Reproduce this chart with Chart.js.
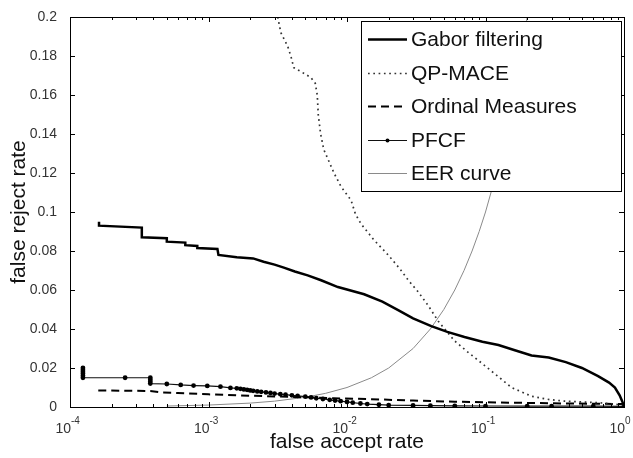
<!DOCTYPE html>
<html>
<head>
<meta charset="utf-8">
<script src="https://cdn.jsdelivr.net/npm/chart.js@4"></script>
<style>
  html, body { margin: 0; padding: 0; background: #fff; }
</style>
</head>
<body>
<canvas id="detChart" width="633" height="458"></canvas>
<script>
// DET curves: false reject rate vs false accept rate (log x)

var seriesNames = ["Gabor filtering", "QP-MACE", "Ordinal Measures", "PFCF", "EER curve"];

var xTicks = [1e-4, 1e-3, 1e-2, 1e-1, 1];
var xTickExps = ["-4", "-3", "-2", "-1", "0"];
var yTicks = [0, 0.02, 0.04, 0.06, 0.08, 0.1, 0.12, 0.14, 0.16, 0.18, 0.2];

var gaborFar = [1.62e-4, 1.62e-4, 3.3e-4, 3.3e-4, 5.0e-4, 5.0e-4, 6.8e-4, 6.8e-4, 8.3e-4, 8.3e-4,
  1.16e-3, 1.18e-3, 1.6e-3, 2.1e-3, 2.5e-3, 3.0e-3, 3.5e-3, 4.2e-3, 5.2e-3, 6.5e-3, 8.6e-3,
  1.33e-2, 1.8e-2, 2.34e-2, 3.0e-2, 4.06e-2, 5.3e-2, 7.05e-2, 9.5e-2, 0.124, 0.165, 0.215,
  0.286, 0.38, 0.497, 0.65, 0.78, 0.86, 0.93, 0.97, 1.0];
var gaborFrr = [0.095, 0.093, 0.092, 0.087, 0.0865, 0.0848, 0.0843, 0.083, 0.0826, 0.0815,
  0.081, 0.078, 0.0768, 0.0762, 0.0745, 0.073, 0.0715, 0.0695, 0.0675, 0.065, 0.0615,
  0.0578, 0.054, 0.0497, 0.0455, 0.0415, 0.0385, 0.0359, 0.0335, 0.0318, 0.029, 0.0264,
  0.0254, 0.023, 0.020, 0.0158, 0.0125, 0.010, 0.006, 0.003, 0.0005];

var qpFar = [3.16e-3, 3.33e-3, 3.73e-3, 3.93e-3, 4.13e-3, 4.65e-3, 5.48e-3, 5.9e-3, 6.1e-3, 6.2e-3,
  6.45e-3, 6.8e-3, 7.3e-3, 8.05e-3, 9.06e-3, 1.07e-2, 1.15e-2, 1.26e-2, 1.55e-2, 1.98e-2,
  2.4e-2, 2.77e-2, 3.27e-2, 3.86e-2, 4.56e-2, 5.96e-2, 7.5e-2, 9.35e-2, 0.124, 0.154,
  0.215, 0.29, 0.373, 0.5, 0.66, 1.0];
var qpFrr = [0.2, 0.192, 0.185, 0.180, 0.174, 0.172, 0.169, 0.166, 0.160, 0.150,
  0.140, 0.132, 0.127, 0.120, 0.113, 0.106, 0.099, 0.094, 0.086, 0.078,
  0.071, 0.065, 0.059, 0.052, 0.044, 0.034, 0.028, 0.0226, 0.0155, 0.010,
  0.0055, 0.0038, 0.003, 0.0026, 0.0022, 0.001];

var ordinalFar = [1.6e-4, 3.8e-4, 4.5e-4, 6e-4, 1e-3, 2e-3, 4e-3, 8e-3, 1.5e-2, 3e-2, 6e-2, 0.15, 0.4, 1.0];
var ordinalFrr = [0.0085, 0.0082, 0.0075, 0.0072, 0.0065, 0.0058, 0.0052, 0.0045, 0.004, 0.0033, 0.0027, 0.0022, 0.0018, 0.0015];

var pfcfFar = [1.24e-4, 1.24e-4, 1.24e-4, 1.24e-4, 1.24e-4, 1.24e-4, 2.5e-4, 3.8e-4, 3.8e-4, 3.8e-4, 3.8e-4,
  5e-4, 6.3e-4, 7.8e-4, 9.8e-4, 1.22e-3, 1.44e-3, 1.6e-3, 1.7e-3, 1.8e-3, 1.9e-3, 2.0e-3, 2.1e-3,
  2.25e-3, 2.4e-3, 2.6e-3, 2.8e-3, 3.0e-3, 3.3e-3, 3.6e-3, 4e-3, 4.4e-3, 5e-3, 5.5e-3, 6e-3,
  6.7e-3, 7.5e-3, 8.2e-3, 9e-3, 1.0e-2, 1.1e-2, 1.25e-2, 1.4e-2, 1.7e-2, 2e-2, 3e-2, 4e-2,
  6e-2, 0.1, 0.2, 0.3, 0.6, 1];
var pfcfFrr = [0.020, 0.019, 0.018, 0.017, 0.016, 0.015, 0.015, 0.015, 0.014, 0.013, 0.012,
  0.0118, 0.0113, 0.011, 0.0108, 0.0104, 0.0098, 0.0096, 0.0093, 0.009, 0.0088, 0.0085, 0.0083,
  0.008, 0.0078, 0.0075, 0.0072, 0.0069, 0.0066, 0.0063, 0.006, 0.0057, 0.0053, 0.0049, 0.0045,
  0.0041, 0.0037, 0.0033, 0.003, 0.0026, 0.0022, 0.0018, 0.0015, 0.0012, 0.001, 0.0008, 0.0007,
  0.0006, 0.0005, 0.0005, 0.0004, 0.0004, 0.0003];

var eerFar = [5e-4, 1e-3, 2e-3, 3e-3, 5e-3, 7e-3, 0.01, 0.015, 0.02, 0.03, 0.04, 0.05, 0.06, 0.07, 0.08, 0.09, 0.1, 0.12, 0.14, 0.16, 0.18, 0.2];
var eerFrr = [5e-4, 1e-3, 2e-3, 3e-3, 5e-3, 7e-3, 0.01, 0.015, 0.02, 0.03, 0.04, 0.05, 0.06, 0.07, 0.08, 0.09, 0.1, 0.12, 0.14, 0.16, 0.18, 0.2];

function pts(xs, ys) {
  return xs.map(function (x, i) { return { x: x, y: ys[i] }; });
}

var FONT = "'Liberation Sans', Arial, sans-serif";

var datasets = [
  { label: seriesNames[0], data: pts(gaborFar, gaborFrr), borderColor: "#000", borderWidth: 2.5, pointRadius: 0 },
  { label: seriesNames[1], data: pts(qpFar, qpFrr), borderColor: "#333", borderWidth: 1.7, borderDash: [1.7, 3.6], pointRadius: 0 },
  { label: seriesNames[2], data: pts(ordinalFar, ordinalFrr), borderColor: "#000", borderWidth: 2, borderDash: [8, 5], pointRadius: 0 },
  { label: seriesNames[3], data: pts(pfcfFar, pfcfFrr), borderColor: "#111", borderWidth: 1.2, pointRadius: 2.4, pointBackgroundColor: "#000", pointBorderColor: "#000", pointBorderWidth: 0 },
  { label: seriesNames[4], data: pts(eerFar, eerFrr), borderColor: "#8a8a8a", borderWidth: 1, pointRadius: 0 },
];
datasets.forEach(function (d) { d.fill = false; d.tension = 0; });

// frame, inward tick marks, x labels with exponents, legend inside the plot
var matlabLook = {
  id: "matlabLook",
  afterDatasetsDraw: function (chart) {
    var ctx = chart.ctx, a = chart.chartArea;
    var xs = chart.scales.x, ys = chart.scales.y;
    ctx.save();
    ctx.strokeStyle = "#000";
    ctx.lineWidth = 1;
    ctx.strokeRect(Math.round(a.left) + 0.5, Math.round(a.top) + 0.5, Math.round(a.right - a.left), Math.round(a.bottom - a.top));

    ctx.beginPath();
    for (var e = -4; e <= 0; e++) {
      for (var m = 1; m <= 9; m++) {
        var v = m * Math.pow(10, e);
        if (v > 1) break;
        var px = Math.round(xs.getPixelForValue(v)) + 0.5;
        var len = m === 1 ? 5 : 3;
        ctx.moveTo(px, a.bottom); ctx.lineTo(px, a.bottom - len);
        ctx.moveTo(px, a.top); ctx.lineTo(px, a.top + len);
      }
    }
    yTicks.forEach(function (v) {
      var py = Math.round(ys.getPixelForValue(v)) + 0.5;
      ctx.moveTo(a.left, py); ctx.lineTo(a.left + 5, py);
      ctx.moveTo(a.right, py); ctx.lineTo(a.right - 5, py);
    });
    ctx.stroke();

    ctx.fillStyle = "#333";
    ctx.textBaseline = "alphabetic";
    xTicks.forEach(function (v, i) {
      var px = xs.getPixelForValue(v);
      ctx.font = "14px " + FONT;
      ctx.textAlign = "right";
      ctx.fillText("10", px + 1, a.bottom + 26);
      ctx.font = "10px " + FONT;
      ctx.textAlign = "left";
      ctx.fillText(xTickExps[i], px + 1, a.bottom + 17);
    });

    // legend box
    var bx = 361, by = 21, bw = 260, bh = 170;
    ctx.fillStyle = "#fff";
    ctx.fillRect(bx, by, bw, bh);
    ctx.strokeStyle = "#000";
    ctx.strokeRect(bx + 0.5, by + 0.5, bw, bh);
    var rowY = [39, 73, 106, 140, 173];
    chart.data.datasets.forEach(function (d, i) {
      var y = rowY[i] + 0.5;
      ctx.save();
      ctx.strokeStyle = d.borderColor;
      ctx.lineWidth = d.borderWidth;
      ctx.setLineDash(d.borderDash || []);
      ctx.beginPath();
      ctx.moveTo(368, y); ctx.lineTo(407, y);
      ctx.stroke();
      if (d.pointRadius) {
        ctx.fillStyle = "#000";
        ctx.beginPath();
        ctx.arc(387.5, y, 2, 0, Math.PI * 2);
        ctx.fill();
      }
      ctx.restore();
      ctx.fillStyle = "#111";
      ctx.font = "21px " + FONT;
      ctx.textAlign = "left";
      ctx.textBaseline = "middle";
      ctx.fillText(d.label, 411, y + 1);
    });
    ctx.restore();
  }
};

var detChart = new Chart(document.getElementById("detChart"), {
  type: "line",
  data: { datasets: datasets },
  options: {
    responsive: false,
    animation: false,
    layout: { padding: { left: 0, top: 17, right: 9, bottom: 0 } },
    plugins: { legend: { display: false }, tooltip: { enabled: false } },
    scales: {
      x: {
        type: "logarithmic",
        min: 1e-4,
        max: 1,
        grid: { display: false },
        border: { display: false },
        ticks: { display: false },
        title: { display: true, text: "false accept rate", color: "#111", font: { family: FONT, size: 21 }, padding: { top: 0, bottom: 3 } },
        afterFit: function (s) { s.height = 51; }
      },
      y: {
        min: 0,
        max: 0.2,
        grid: { display: false },
        border: { display: false },
        afterBuildTicks: function (s) { s.ticks = yTicks.map(function (v) { return { value: v }; }); },
        ticks: {
          color: "#333",
          font: { family: FONT, size: 14 },
          padding: 5,
          callback: function (v) { return String(+Number(v).toFixed(2)); }
        },
        title: { display: true, text: "false reject rate", color: "#111", font: { family: FONT, size: 21 }, padding: { top: 7, bottom: 0 } },
        afterFit: function (s) { s.width = 70; }
      }
    }
  },
  plugins: [matlabLook]
});
</script>
</body>
</html>
